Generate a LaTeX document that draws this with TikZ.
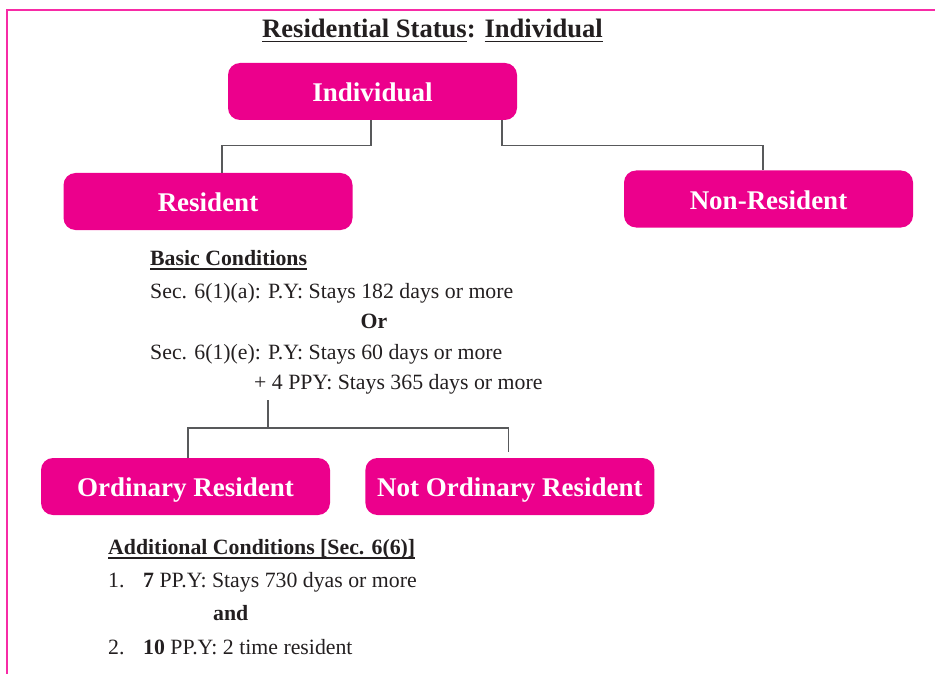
\documentclass[tikz,border=0pt]{standalone}
\usepackage{fontspec}
\setmainfont{Liberation Serif}
\usetikzlibrary{positioning}
\definecolor{hotpink}{HTML}{EC008C}
\definecolor{framepink}{HTML}{F72BA6}
\definecolor{ink}{HTML}{231F20}
\definecolor{wire}{HTML}{58595B}
\newcommand\undl[1]{\setbox0=\hbox{#1}\rlap{\copy0}\rule[-4.5pt]{\wd0}{1.5pt}}
\tikzset{
    status/.style={fill=hotpink, rounded corners=12pt, minimum width=289pt, minimum height=57pt, text height=20pt, text depth=0pt, text=white, font=\bfseries\fontsize{27}{32}\selectfont},
    cond/.style={inner sep=0pt, anchor=base west, text=ink, font=\fontsize{21.8}{26}\selectfont},
    condbold/.style={cond, font=\bfseries\fontsize{21.8}{26}\selectfont},
    link/.style={draw=wire, line width=1.3pt},
}
\begin{document}
\begin{tikzpicture}[x=1pt,y=-1pt]
\useasboundingbox (0,0) rectangle (935,674);
\draw[framepink, line width=2pt] (7,674) -- (7,10) -- (935,10);
\node[cond, anchor=base, font=\bfseries\fontsize{26.6}{31}\selectfont] (title) at (432.5,38) {\undl{Residential Status}: \undl{Individual}};
% status boxes
\node[status] (ind) at (372.5,91.5) {Individual};
\node[status] (res) at (208,201.5) {Resident};
\node[status] (nonres) at (768.5,199) {Non-Resident};
\node[status] (ord) at (185.5,486.5) {Ordinary Resident};
\node[status, right=35pt of ord] (notord) {Not Ordinary Resident};
\draw[link] ([xshift=-1.5pt]ind.south) -- ++(0,25) -| ([xshift=14pt]res.north);
\draw[link] ([xshift=129.5pt]ind.south) -- ++(0,25) -| ([xshift=-5.5pt]nonres.north);
% basic conditions
\node[condbold] (basic) at (150,265) {\undl{Basic Conditions}};
\node[cond] (seca) at (150,298) {Sec. 6(1)(a): P.Y: Stays 182 days or more};
\node[condbold, anchor=base] (or) at (374,328) {Or};
\node[cond] (sece) at (150,359) {Sec. 6(1)(e): P.Y: Stays 60 days or more};
\node[cond] (ppy) at (254,389) {+ 4 PPY: Stays 365 days or more};
\draw[link] ([xshift=14pt,yshift=-11pt]ppy.base west) -- ++(0,28) coordinate (fork);
\draw[link] (fork) -| ([xshift=2.5pt]ord.north);
\draw[link] (fork) -| ([xshift=-1.5pt,yshift=6pt]notord.north);
% additional conditions
\node[condbold] (addl) at (108,554) {\undl{Additional Conditions [Sec. 6(6)]}};
\node[cond] (one) at (108,587) {\makebox[35pt][l]{1.}\textbf{7} PP.Y: Stays 730 dyas or more};
\node[condbold] (and) at (213,620) {and};
\node[cond] (two) at (108,654) {\makebox[35pt][l]{2.}\textbf{10} PP.Y: 2 time resident};
\end{tikzpicture}
\end{document}
